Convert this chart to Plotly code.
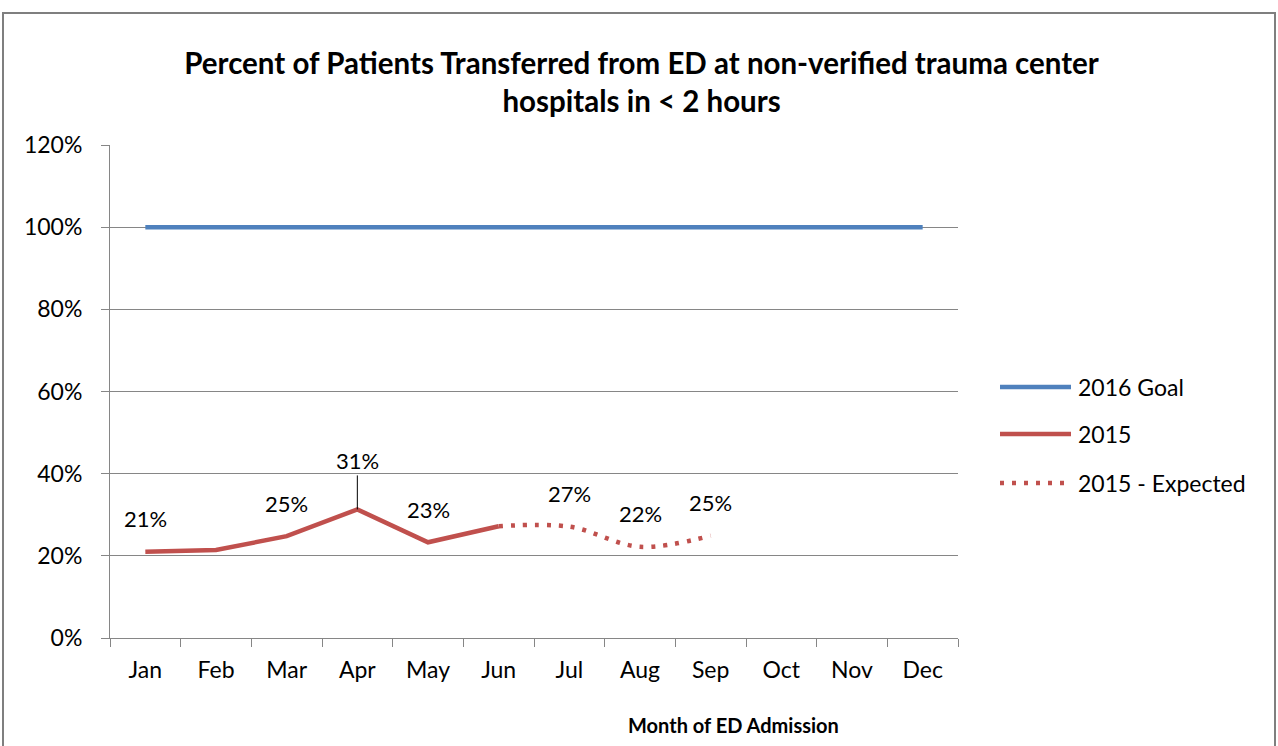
import plotly.graph_objects as go

# ---- data ----
months = ["Jan", "Feb", "Mar", "Apr", "May", "Jun", "Jul", "Aug", "Sep", "Oct", "Nov", "Dec"]
goal_name = "2016 Goal"
goal_values = [1.0] * 12
actual_name = "2015"
actual_months = ["Jan", "Feb", "Mar", "Apr", "May", "Jun"]
actual_values = [0.210, 0.214, 0.248, 0.313, 0.233, 0.272]
expected_name = "2015 - Expected"
expected_months = ["Jun", "Jul", "Aug", "Sep"]
expected_values = [0.272, 0.271, 0.222, 0.249]
# which points carry a data label
actual_labeled = ["Jan", "Mar", "Apr", "May"]
expected_labeled = ["Jul", "Aug", "Sep"]
leader_label = "Apr"

title_text = "Percent of Patients Transferred from ED at non-verified trauma center<br>hospitals in < 2 hours"
x_title = "Month of ED Admission"

BLUE = "#4F81BD"
RED = "#C0504D"
GRID = "#868686"
FONT = "Lato"
DOT = "4px,8px"
TICK_SIZE = 23

fig = go.Figure()
fig.add_trace(go.Scatter(x=months, y=goal_values, name=goal_name, mode="lines",
                         line=dict(color=BLUE, width=4.5), showlegend=False))
fig.add_trace(go.Scatter(x=actual_months, y=actual_values, name=actual_name, mode="lines",
                         line=dict(color=RED, width=4.5), showlegend=False))
fig.add_trace(go.Scatter(x=expected_months, y=expected_values, name=expected_name, mode="lines",
                         line=dict(color=RED, width=4.5, dash=DOT, shape="spline", smoothing=1),
                         showlegend=False))

annotations = []
def add_labels(ms, vs, labeled):
    for m, v in zip(ms, vs):
        if m not in labeled:
            continue
        txt = f"{round(v * 100)}%"
        if m == leader_label:
            annotations.append(dict(x=m, y=v, xref="x", yref="y", text=txt, showarrow=True,
                                    ax=0, ay=-49, arrowhead=0, arrowwidth=1, arrowcolor="black",
                                    font=dict(family=FONT, size=22, color="black")))
        else:
            annotations.append(dict(x=m, y=v, xref="x", yref="y", text=txt, showarrow=False,
                                    yshift=33, yanchor="middle",
                                    font=dict(family=FONT, size=22, color="black")))

add_labels(actual_months, actual_values, actual_labeled)
add_labels(expected_months, expected_values, expected_labeled)

# axis title
annotations.append(dict(x=(733 - 110) / 848, y=(638 - 725) / 493, xref="paper", yref="paper",
                        text=f"<b>{x_title}</b>", showarrow=False, xanchor="center", yanchor="middle",
                        font=dict(family=FONT, size=20, color="black")))

# custom legend (paper coordinates)
def px_x(px):
    return (px - 110) / 848

def px_y(py):
    return (638 - py) / 493

shapes = []
legend_items = [(goal_name, BLUE, "solid", 387), (actual_name, RED, "solid", 434),
                (expected_name, RED, DOT, 483)]
for name, color, dash, py in legend_items:
    shapes.append(dict(type="line", xref="paper", yref="paper", x0=px_x(1000), x1=px_x(1071),
                       y0=px_y(py), y1=px_y(py), line=dict(color=color, width=4.5, dash=dash)))
    annotations.append(dict(x=px_x(1076), y=px_y(py), xref="paper", yref="paper", text=name,
                            showarrow=False, xanchor="left", yanchor="middle",
                            font=dict(family=FONT, size=23, color="black")))

# outer chart border
shapes.append(dict(type="rect", xref="paper", yref="paper", x0=px_x(3), x1=px_x(1275),
                   y0=px_y(800), y1=px_y(13), line=dict(color="#7f7f7f", width=2),
                   fillcolor="rgba(0,0,0,0)", layer="below"))

fig.update_layout(
    width=1278, height=746,
    margin=dict(l=110, r=320, t=145, b=108),
    paper_bgcolor="white", plot_bgcolor="white",
    title=dict(text=f"<b>{title_text}</b>", x=0.502, xanchor="center", y=1 - 74 / 746,
               yanchor="middle", font=dict(family=FONT, size=29.5, color="black")),
    showlegend=False,
    annotations=annotations,
    shapes=shapes,
    font=dict(family=FONT, size=22, color="black"),
)
fig.update_xaxes(type="category", categoryorder="array", categoryarray=months,
                 range=[-0.5, 11.5], tickson="boundaries", ticks="outside", ticklen=8,
                 tickcolor=GRID, showline=True, linecolor=GRID, linewidth=1, showgrid=False,
                 tickfont=dict(family=FONT, size=TICK_SIZE, color="black"), ticklabelstandoff=11)
fig.update_yaxes(range=[0, 1.2], dtick=0.2, tickformat=".0%", ticks="outside", ticklen=8,
                 tickcolor=GRID, showline=True, linecolor=GRID, linewidth=1, showgrid=True,
                 gridcolor=GRID, gridwidth=1, zeroline=False,
                 tickfont=dict(family=FONT, size=TICK_SIZE, color="black"), ticklabelstandoff=14)

fig.write_html("out.html", config={"displayModeBar": False},
               post_script="document.body.style.margin='0';document.body.style.overflow='hidden';")
